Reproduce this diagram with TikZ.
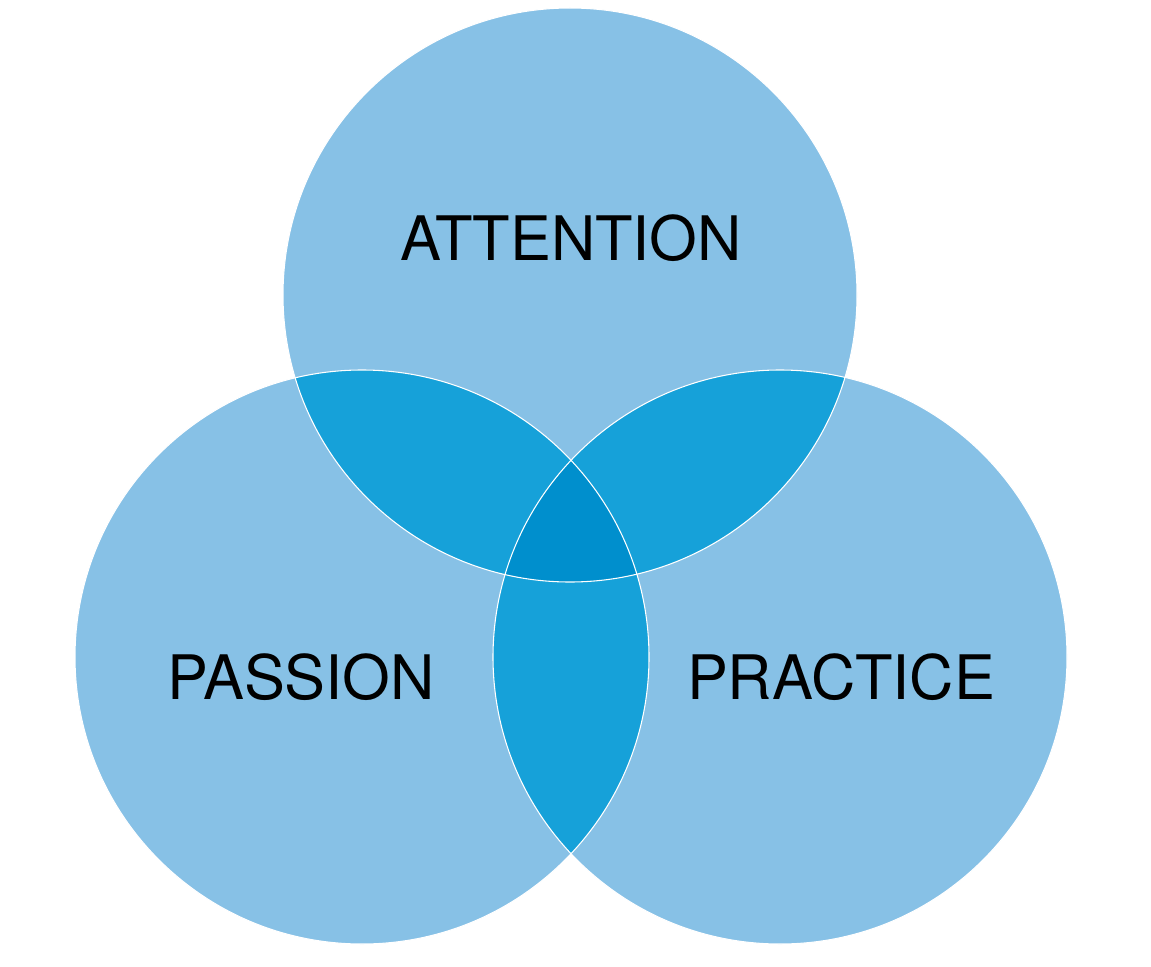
\documentclass[tikz,border=0pt]{standalone}
\usepackage{fontspec}
\setmainfont{TeX Gyre Heros}
\definecolor{ringblue}{RGB}{135,193,230}
\definecolor{pairblue}{RGB}{22,161,217}
\definecolor{coreblue}{RGB}{0,143,205}
\tikzset{
  ring/.style={fill=ringblue,draw=white,line width=0.8},
  ringlabel/.style={font=\fontsize{46}{50}\selectfont,text=black,inner sep=0.75pt}
}
\begin{document}
\begin{tikzpicture}[x=0.75pt,y=0.75pt,yscale=-1,xscale=1]
\useasboundingbox[fill=white] (0,0) rectangle (1151,966);

% circle centres
\coordinate (top) at (570,295);
\coordinate (left) at (362,657);
\coordinate (right) at (780,657);
\def\rad{287}

% Shapes: the three rings
\fill[ringblue] (top) circle (\rad);
\fill[ringblue] (left) circle (\rad);
\fill[ringblue] (right) circle (\rad);

% pairwise overlaps
\begin{scope}
  \clip (top) circle (\rad);
  \fill[pairblue] (left) circle (\rad);
  \fill[pairblue] (right) circle (\rad);
\end{scope}
\begin{scope}
  \clip (left) circle (\rad);
  \fill[pairblue] (right) circle (\rad);
\end{scope}

% centre overlap
\begin{scope}
  \clip (top) circle (\rad);
  \clip (left) circle (\rad);
  \fill[coreblue] (right) circle (\rad);
\end{scope}

% thin outlines
\draw[white,line width=0.8] (top) circle (\rad);
\draw[white,line width=0.8] (left) circle (\rad);
\draw[white,line width=0.8] (right) circle (\rad);

% Text Nodes
\node[ringlabel] (attention) at (571,238) {ATTENTION};
\node[ringlabel] (passion) at (301,677) {PASSION};
\node[ringlabel] (practice) at (841,677) {PRACTICE};
\end{tikzpicture}
\end{document}
